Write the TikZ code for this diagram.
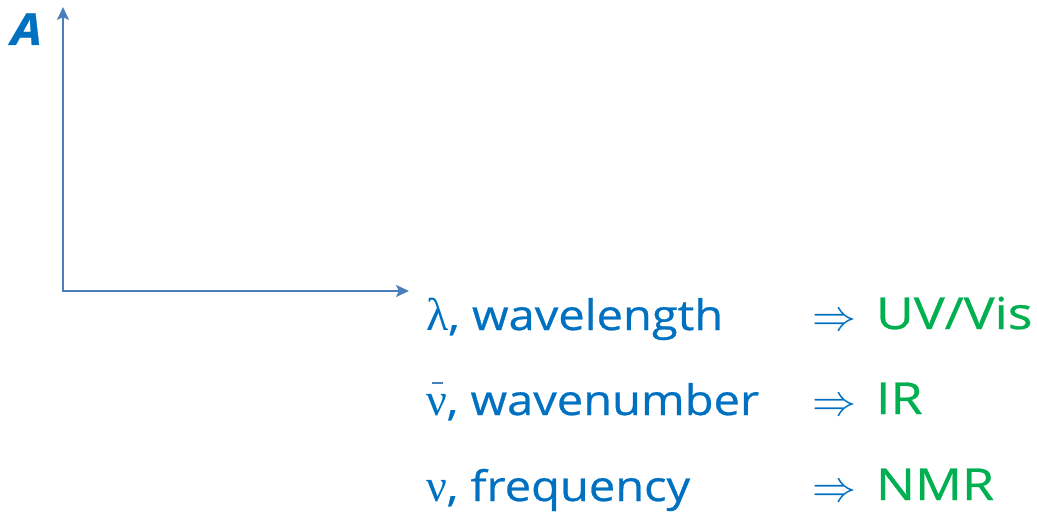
\RequirePackage{fix-cm}
\documentclass[tikz,border=0pt]{standalone}
\usepackage{fontspec}
\setmainfont{Open Sans}[FakeStretch=1.12,FakeBold=0.6]
\newfontfamily\grk{Liberation Serif}
\newfontfamily\widesans{Open Sans}[FakeStretch=1.18,FakeBold=0.6]
\usetikzlibrary{arrows.meta}
\definecolor{txtblue}{HTML}{0070C0}
\definecolor{txtgreen}{HTML}{00B050}
\definecolor{axisblue}{HTML}{4A7EBB}
\definecolor{barblue}{HTML}{4A7EBB}
\newcommand{\gk}[1]{{\fontsize{46}{50}\selectfont\grk #1}}
\tikzset{
  axis/.style={draw=axisblue, line width=2pt, {Stealth[length=13pt,width=12pt,inset=3pt]}-{Stealth[length=13pt,width=12pt,inset=3pt]}},
  lbl/.style={anchor=base west, inner sep=0pt, outer sep=0pt, text=txtblue, font=\fontsize{42}{48}\selectfont},
  res/.style={anchor=base west, inner sep=0pt, outer sep=0pt, text=txtgreen, font=\widesans\fontsize{44}{48}\selectfont},
  imp/.style={anchor=base west, inner sep=0pt, outer sep=0pt, text=txtblue, font=\fontsize{44}{48}\selectfont},
  macron/.style={draw=barblue, line width=2pt}
}
\begin{document}
\begin{tikzpicture}[x=1pt,y=-1pt]
\useasboundingbox (0,0) rectangle (1037,514);
\coordinate (Ytip) at (63,7);
\coordinate (O) at (63,291);
\coordinate (Xtip) at (409,291);
\draw[axis] (Ytip) -- (O) -- (Xtip);
\node[lbl, font=\fontsize{44}{48}\selectfont\bfseries\itshape] (A) at (11,45) {A};
\node[lbl] (l1) at (426,330) {\gk{λ}, wavelength};
\node[lbl] (l2) at (426,415) {\gk{ν}, wavenumber};
\node[lbl] (l3) at (426,501) {\gk{ν}, frequency};
\coordinate (barL) at (432,383);
\coordinate (barR) at (443,383);
\draw[macron] (barL) -- (barR);
\node[imp] (i1) at (812,330) {$\Rightarrow$};
\node[imp] (i2) at (812,415) {$\Rightarrow$};
\node[imp] (i3) at (812,501) {$\Rightarrow$};
\node[res] (r1) at (876,329) {UV/Vis};
\node[res] (r2) at (876,414) {IR};
\node[res] (r3) at (876,500) {NMR};
\end{tikzpicture}
\end{document}
